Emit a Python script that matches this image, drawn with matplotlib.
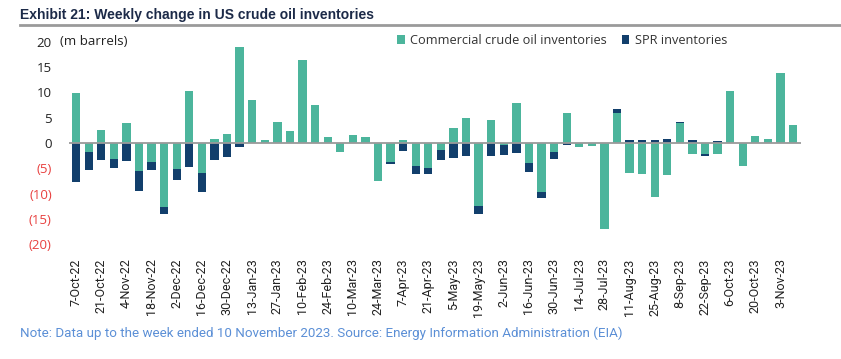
import matplotlib.pyplot as plt
import numpy as np

# weekly dates, 7-Oct-22 .. 10-Nov-23
weeks = ['7-Oct-22', '14-Oct-22', '21-Oct-22', '28-Oct-22', '4-Nov-22', '11-Nov-22',
         '18-Nov-22', '25-Nov-22', '2-Dec-22', '9-Dec-22', '16-Dec-22', '23-Dec-22',
         '30-Dec-22', '6-Jan-23', '13-Jan-23', '20-Jan-23', '27-Jan-23', '3-Feb-23',
         '10-Feb-23', '17-Feb-23', '24-Feb-23', '3-Mar-23', '10-Mar-23', '17-Mar-23',
         '24-Mar-23', '31-Mar-23', '7-Apr-23', '14-Apr-23', '21-Apr-23', '28-Apr-23',
         '5-May-23', '12-May-23', '19-May-23', '26-May-23', '2-Jun-23', '9-Jun-23',
         '16-Jun-23', '23-Jun-23', '30-Jun-23', '7-Jul-23', '14-Jul-23', '21-Jul-23',
         '28-Jul-23', '4-Aug-23', '11-Aug-23', '18-Aug-23', '25-Aug-23', '1-Sep-23',
         '8-Sep-23', '15-Sep-23', '22-Sep-23', '29-Sep-23', '6-Oct-23', '13-Oct-23',
         '20-Oct-23', '27-Oct-23', '3-Nov-23', '10-Nov-23']

# million barrels
commercial = [9.9, -1.7, 2.6, -3.1, 3.9, -5.5, -3.7, -12.7, -5.2, 10.2, -5.9, 0.7,
              1.7, 19.0, 8.4, 0.5, 4.2, 2.4, 16.3, 7.6, 1.2, -1.7, 1.6, 1.1,
              -7.5, -3.8, 0.6, -4.6, -5.0, -1.3, 2.9, 5.0, -12.5, 4.5, -0.4, 7.9,
              -4.0, -9.6, -1.7, 5.9, -0.7, -0.6, -17.0, 5.9, -6.0, -6.1, -10.6, -6.3,
              3.9, -2.1, -2.2, -2.2, 10.2, -4.5, 1.4, 0.8, 13.9, 3.6]
spr = [-7.7, -3.7, -3.4, -1.8, -3.6, -4.0, -1.6, -1.3, -2.1, -4.7, -3.8, -3.4,
       -2.7, -0.8, 0, 0, 0, 0, 0, 0, 0, 0, 0, 0,
       0, -0.4, -1.5, -1.5, -1.1, -2.0, -2.9, -2.5, -1.5, -2.6, -1.9, -1.9,
       -1.7, -1.3, -1.4, -0.3, 0, 0, 0, 0.9, 0.6, 0.6, 0.6, 0.8,
       0.3, 0.5, -0.3, 0.3, 0, 0, 0, 0, 0, 0]

teal = '#4cb59c'
navy = '#123f6c'
red = '#e8403f'

plt.rcParams['font.family'] = ['Open Sans', 'DejaVu Sans']

x = np.arange(len(weeks))
com = np.array(commercial)
sp = np.array(spr)
# stack positives on positives and negatives on negatives
spr_bottom = np.where(sp >= 0, np.maximum(com, 0), np.minimum(com, 0))

fig = plt.figure(figsize=(8.41, 3.59), dpi=100)
ax = fig.add_axes([0.0815, 0.3195, 0.8705, 0.5643])

ax.bar(x, com, width=0.66, color=teal, label='Commercial crude oil inventories', zorder=2)
ax.bar(x, sp, width=0.66, bottom=spr_bottom, color=navy, label='SPR inventories', zorder=2)
ax.axhline(0, color='#9a9a9a', lw=1.3, zorder=3)

ax.set_xlim(-0.6, len(weeks) - 0.4)
ax.set_ylim(-20, 20)
ax.set_yticks(range(-20, 21, 5))
ax.set_yticklabels(['(20)', '(15)', '(10)', '(5)', '0', '5', '10', '15', '20'], fontsize=9.5)
for lab, v in zip(ax.get_yticklabels(), range(-20, 21, 5)):
    lab.set_color(red if v < 0 else '#222222')
ax.set_xticks(x[::2])
ax.set_xticklabels(weeks[::2], rotation=90, fontsize=9, family=['Roboto', 'DejaVu Sans'],
                   color='#222222')
ax.tick_params(axis='both', length=0)
ax.tick_params(axis='y', pad=12)
ax.tick_params(axis='x', pad=10)
for s in ax.spines.values():
    s.set_visible(False)

ax.text(-1.3, 20, '(m barrels)', fontsize=9.5, color='#222222', va='center', ha='left')

leg = ax.legend(loc='upper right', bbox_to_anchor=(0.915, 1.095), ncol=2, frameon=False,
                fontsize=9.2, handlelength=0.6, handleheight=0.6, handletextpad=0.4,
                columnspacing=1.2, labelcolor='#333333')

fig.text(0.024, 0.958, 'Exhibit 21: Weekly change in US crude oil inventories',
         fontsize=10, fontweight='bold', color='#1c2a48', va='center',
         family=['Liberation Sans', 'DejaVu Sans'])
fig.add_artist(plt.Line2D([0.024, 1.0], [0.93, 0.93], color='#9a9a9a', lw=2))
fig.text(0.024, 0.072,
         'Note: Data up to the week ended 10 November 2023. Source: Energy Information Administration (EIA)',
         fontsize=9.6, color='#5b8fd6', va='center', family=['Roboto', 'DejaVu Sans'])

plt.savefig('out.png', dpi=100)
